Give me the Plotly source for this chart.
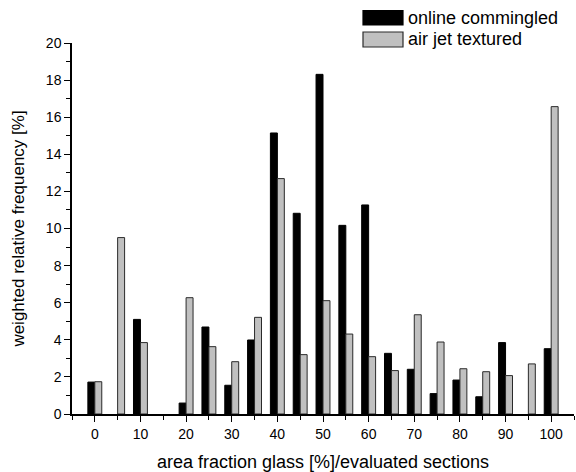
import plotly.graph_objects as go

categories = [0, 5, 10, 15, 20, 25, 30, 35, 40, 45, 50, 55, 60, 65, 70, 75, 80, 85, 90, 95, 100]
online_commingled = [1.72, None, 5.10, None, 0.59, 4.69, 1.55, 3.99, 15.15, 10.82, 18.31, 10.17, 11.27,
                     3.27, 2.41, 1.10, 1.83, 0.93, 3.85, None, 3.52]
air_jet_textured = [1.74, 9.51, 3.85, None, 6.27, 3.63, 2.82, 5.21, 12.69, 3.20, 6.11, 4.31, 3.09,
                    2.34, 5.35, 3.88, 2.44, 2.28, 2.07, 2.70, 16.57]
x_ticks = [0, 10, 20, 30, 40, 50, 60, 70, 80, 90, 100]
y_ticks = [0, 2, 4, 6, 8, 10, 12, 14, 16, 18, 20]

FONT = "Liberation Sans, Arial, sans-serif"
W, H = 576, 472
L, R, T, B = 72, 2, 43, 58
pw, ph = W - L - R, H - T - B

fig = go.Figure()
fig.add_trace(go.Bar(x=categories, y=online_commingled, name="online commingled",
                     marker=dict(color="#000000", line=dict(color="#000000", width=1))))
fig.add_trace(go.Bar(x=categories, y=air_jet_textured, name="air jet textured",
                     marker=dict(color="#c0c0c0", line=dict(color="#2a2a2a", width=1))))


def px(xp):
    return (xp - L) / pw


def py(yp):
    return (H - B - yp) / ph


shapes = []
annotations = []
legend_items = [("online commingled", "#000000", "#000000", 10.7, 25.0),
                ("air jet textured", "#c0c0c0", "#2a2a2a", 32.0, 47.0)]
for label, fill, line, y0, y1 in legend_items:
    shapes.append(dict(type="rect", xref="paper", yref="paper",
                       x0=px(363), x1=px(403), y0=py(y1), y1=py(y0),
                       fillcolor=fill, line=dict(color=line, width=1.2)))
    annotations.append(dict(text=label, xref="paper", yref="paper",
                            x=px(406), y=py((y0 + y1) / 2), xanchor="left", yanchor="middle",
                            showarrow=False, font=dict(family=FONT, size=18, color="#000000")))

fig.update_layout(
    width=W, height=H,
    margin=dict(l=L, r=R, t=T, b=B, pad=0),
    paper_bgcolor="white", plot_bgcolor="white",
    barmode="group", bargap=0.39, bargroupgap=0,
    showlegend=False,
    font=dict(family=FONT, size=14, color="#000000"),
    shapes=shapes, annotations=annotations,
    xaxis=dict(range=[-5, 105], tickmode="array", tickvals=x_ticks,
               ticks="outside", ticklen=6, tickwidth=1.3, tickcolor="#000000",
               showline=True, linecolor="#000000", linewidth=1.5,
               showgrid=False, zeroline=False,
               minor=dict(dtick=5, tick0=0, ticks="outside", ticklen=4, tickwidth=1.3,
                          tickcolor="#000000", showgrid=False),
               tickfont=dict(family=FONT, size=14),
               title=dict(text="area fraction glass [%]/evaluated sections",
                          font=dict(family=FONT, size=18), standoff=15)),
    yaxis=dict(range=[0, 20], tickmode="array", tickvals=y_ticks,
               ticks="outside", ticklen=6, tickwidth=1.3, tickcolor="#000000",
               showline=True, linecolor="#000000", linewidth=1.5,
               showgrid=False, zeroline=False,
               minor=dict(dtick=1, tick0=0, ticks="outside", ticklen=4, tickwidth=1.3,
                          tickcolor="#000000", showgrid=False),
               tickfont=dict(family=FONT, size=14),
               title=dict(text="weighted relative frequency [%]",
                          font=dict(family=FONT, size=17), standoff=17)),
)

fig.write_html("out.html")
